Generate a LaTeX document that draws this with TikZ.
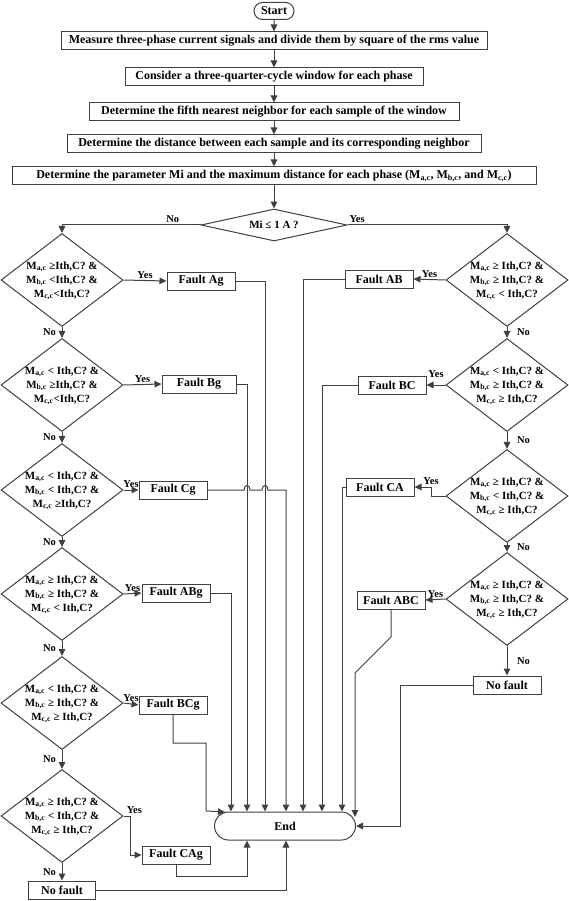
\documentclass[tikz,border=0pt]{standalone}
\usepackage{fontspec}
\setmainfont{Liberation Serif}
\usetikzlibrary{shapes.geometric,shapes.misc,arrows.meta}
\definecolor{linegray}{RGB}{64,64,64}
\newcommand{\Mc}[1]{M\textsubscript{#1,c}}
\newcommand{\condtxt}[3]{\smash{\makebox[0pt]{\raisebox{-3pt}{\begin{tabular}{@{}c@{}}#1\\#2\\#3\end{tabular}}}}}
\tikzset{
  flow/.style={draw=linegray, line width=1pt, -{Triangle[length=7pt,width=6.5pt]}},
  procbox/.style={draw=linegray, line width=1pt, minimum height=18pt, inner sep=2pt,
    font=\bfseries\fontsize{12}{13}\selectfont},
  faultbox/.style={procbox, minimum width=68pt},
  termbox/.style={rounded rectangle, draw=linegray, line width=1pt, inner sep=2pt,
    font=\bfseries\fontsize{12}{13}\selectfont},
  decision/.style={diamond, draw=linegray, line width=1pt, minimum width=122pt,
    minimum height=93pt, inner sep=0pt, font=\bfseries\fontsize{11}{14}\selectfont},
  lbl/.style={font=\bfseries\fontsize{10.5}{12}\selectfont, inner sep=1.5pt}
}
\begin{document}
\begin{tikzpicture}[x=1pt,y=-1pt]
\useasboundingbox (0,0) rectangle (568,901);
% main column
\node[termbox, minimum width=44pt, minimum height=17pt] (start) at (274,11) {Start};
\node[procbox, minimum width=426pt] (meas) at (274,41) {Measure three-phase current signals and divide them by square of the rms value};
\node[procbox, minimum width=298pt] (win) at (274,77) {Consider a three-quarter-cycle window for each phase};
\node[procbox, minimum width=370pt] (nbr) at (274,112) {Determine the fifth nearest neighbor for each sample of the window};
\node[procbox, minimum width=414pt] (dist) at (274,144) {Determine the distance between each sample and its corresponding neighbor};
\node[procbox, minimum width=524pt] (param) at (274,176) {Determine the parameter Mi and the maximum distance for each phase (\Mc{a}, \Mc{b}, and \Mc{c})};
\node[decision, aspect=4.5, minimum width=146pt, minimum height=32pt] (mi) at (274,225) {Mi ≤ 1 A ?};
\draw[flow] (start) -- (meas);
\draw[flow] (meas) -- (win);
\draw[flow] (win) -- (nbr);
\draw[flow] (nbr) -- (dist);
\draw[flow] (dist) -- (param);
\draw[flow] (param) -- (mi);

% left branch
\node[decision] (l1) at (62,280) {\condtxt{\Mc{a} ≥Ith,C? \&}{\Mc{b} <Ith,C? \&}{\Mc{c}<Ith,C?}};
\node[decision] (l2) at (62,385) {\condtxt{\Mc{a} < Ith,C? \&}{\Mc{b} ≥Ith,C? \&}{\Mc{c}<Ith,C?}};
\node[decision] (l3) at (62,490) {\condtxt{\Mc{a} < Ith,C? \&}{\Mc{b} < Ith,C? \&}{\Mc{c} ≥Ith,C?}};
\node[decision] (l4) at (62,594) {\condtxt{\Mc{a} ≥ Ith,C? \&}{\Mc{b} ≥ Ith,C? \&}{\Mc{c} < Ith,C?}};
\node[decision] (l5) at (62,703) {\condtxt{\Mc{a} < Ith,C? \&}{\Mc{b} ≥ Ith,C? \&}{\Mc{c} ≥ Ith,C?}};
\node[decision] (l6) at (62,816) {\condtxt{\Mc{a} ≥ Ith,C? \&}{\Mc{b} < Ith,C? \&}{\Mc{c} ≥ Ith,C?}};
\node[procbox, minimum width=67pt] (nfl) at (62,890) {No fault};

\node[faultbox] (ag) at (201,281) {Fault Ag};
\node[faultbox, minimum width=74pt] (bg) at (199,384) {Fault Bg};
\node[faultbox] (cg) at (173,490) {Fault Cg};
\node[faultbox] (abg) at (176,593) {Fault ABg};
\node[faultbox] (bcg) at (173,705) {Fault BCg};
\node[faultbox] (cag) at (176,855) {Fault CAg};

% right branch
\node[decision] (r1) at (507,280) {\condtxt{\Mc{a} ≥ Ith,C? \&}{\Mc{b} ≥ Ith,C? \&}{\Mc{c} < Ith,C?}};
\node[decision] (r2) at (507,385) {\condtxt{\Mc{a} < Ith,C? \&}{\Mc{b} ≥ Ith,C? \&}{\Mc{c} ≥ Ith,C?}};
\node[decision] (r3) at (507,496) {\condtxt{\Mc{a} ≥ Ith,C? \&}{\Mc{b} < Ith,C? \&}{\Mc{c} ≥ Ith,C?}};
\node[decision] (r4) at (507,599) {\condtxt{\Mc{a} ≥ Ith,C? \&}{\Mc{b} ≥ Ith,C? \&}{\Mc{c} ≥ Ith,C?}};
\node[procbox, minimum width=68pt] (nfr) at (507,685) {No fault};

\node[faultbox] (ab) at (379,279) {Fault AB};
\node[faultbox] (bc) at (392,385) {Fault BC};
\node[faultbox] (ca) at (380,487) {Fault CA};
\node[faultbox] (abc) at (391,600) {Fault ABC};

\node[termbox, minimum width=145pt, minimum height=28pt] (end) at (285,826) {End};

% decision arrows
\draw[flow] (mi.west) -| node[lbl, above, pos=0.1] {No} (l1.north);
\draw[flow] (mi.east) -| node[lbl, above right, pos=0] {Yes} (r1.north);
\draw[flow] (l1) -- node[lbl, left, xshift=-4pt] {No} (l2);
\draw[flow] (l2) -- node[lbl, left, xshift=-4pt] {No} (l3);
\draw[flow] (l3) -- node[lbl, left, xshift=-4pt] {No} (l4);
\draw[flow] (l4) -- node[lbl, left, xshift=-4pt] {No} (l5);
\draw[flow] (l5) -- node[lbl, left, xshift=-4pt] {No} (l6);
\draw[flow] (l6) -- node[lbl, left, xshift=-4pt] {No} (nfl);
\draw[flow] (l1.east) -- node[lbl, above] {Yes} (ag.west);
\draw[flow] (l2.east) -- node[lbl, above] {Yes} (bg.west);
\draw[flow] (l3.east) -- node[lbl, above] {Yes} (cg.west);
\draw[flow] (l4.east) -- node[lbl, above] {Yes} (abg.west);
\draw[flow] (l5.east) -- node[lbl, above] {Yes} (bcg.west);
\draw[flow] (l6.east) -- node[lbl, above right, pos=0.2] {Yes} (130,816) |- (cag.west);
\draw[flow] (r1) -- node[lbl, right, xshift=8pt] {No} (r2);
\draw[flow] (r2) -- node[lbl, right, xshift=8pt] {No} (r3);
\draw[flow] (r3) -- node[lbl, right, xshift=8pt] {No} (r4);
\draw[flow] (r4) -- node[lbl, right, xshift=8pt] {No} (nfr);
\draw[flow] (r1.west) -- node[lbl, above] {Yes} (ab.east);
\draw[flow] (r2.west) -- node[lbl, above, yshift=5pt] {Yes} (bc.east);
\draw[flow] (r3.west) -- (431,496) |- node[lbl, above, pos=0.5] {Yes} (ca.east);
\draw[flow] (r4.west) -- node[lbl, above] {Yes} (abc.east);

% to End
\draw[flow] (abg.east) -| (231,0 |- end.north);
\draw[flow] (bg.east) -| (247,0 |- end.north);
\draw[flow] (ag.east) -| (265,0 |- end.north);
\draw[flow] (cg.east) -- (244,490) .. controls (244,484) and (250,484) .. (250,490)
  -- (262,490) .. controls (262,484) and (268,484) .. (268,490) -| (286,0 |- end.north);
\draw[flow] (ab.west) -| (303,0 |- end.north);
\draw[flow] (bc.west) -| (322,0 |- end.north);
\draw[flow] (ca.west) -| (342,0 |- end.north);
\draw[flow] (abc.south) -- (391,637) -- (355,673) -- (355,817);
\draw[flow] (bcg.south) |- (206,743) -- (206,811) -- (225,812);
\draw[flow] (cag.south) -- ++(0,12) -| (247,0 |- end.south);
\draw[flow] (nfl.east) -| (286,0 |- end.south);
\draw[flow] (nfr.west) -| (400,0 |- end.east) -- (end.east);
\end{tikzpicture}
\end{document}
